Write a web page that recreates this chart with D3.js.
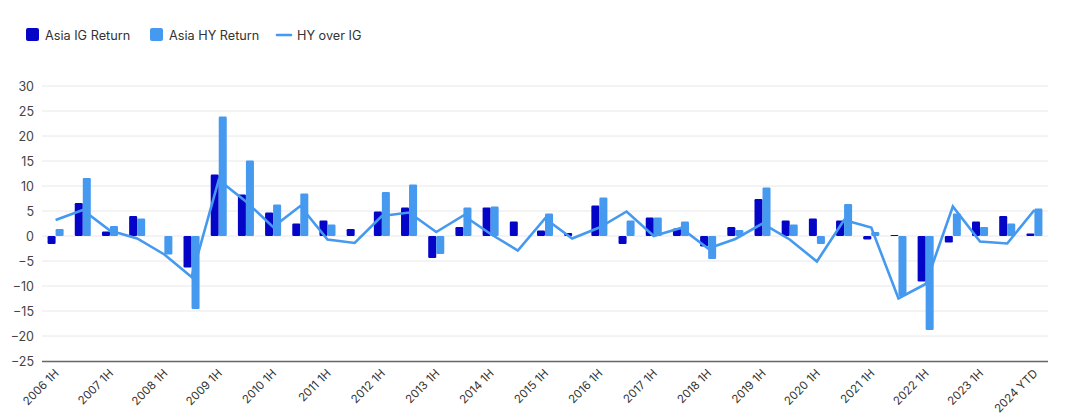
<!DOCTYPE html>
<html>
<head>
<meta charset="utf-8">
<script src="https://cdn.jsdelivr.net/npm/d3@7"></script>
<style>
  html, body { margin: 0; padding: 0; background: #fff; }
  svg { display: block; font-family: Inter, "Noto Sans", sans-serif; }
</style>
</head>
<body>
<svg id="chart" width="1080" height="419"></svg>
<script>
const categories = [
  "2006 1H","2006 2H","2007 1H","2007 2H","2008 1H","2008 2H","2009 1H","2009 2H",
  "2010 1H","2010 2H","2011 1H","2011 2H","2012 1H","2012 2H","2013 1H","2013 2H",
  "2014 1H","2014 2H","2015 1H","2015 2H","2016 1H","2016 2H","2017 1H","2017 2H",
  "2018 1H","2018 2H","2019 1H","2019 2H","2020 1H","2020 2H","2021 1H","2021 2H",
  "2022 1H","2022 2H","2023 1H","2023 2H","2024 YTD"
];
const igReturn = [
  -1.6, 6.6, 0.9, 4.0, 0.0, -6.3, 12.3, 8.3,
  4.7, 2.5, 3.1, 1.4, 4.9, 5.7, -4.4, 1.8,
  5.7, 2.9, 1.1, 0.6, 6.1, -1.6, 3.7, 1.5,
  -2.1, 1.8, 7.4, 3.1, 3.5, 3.1, -0.7, 0.2,
  -9.1, -1.3, 2.9, 4.0, 0.5
];
const hyReturn = [
  1.4, 11.6, 2.0, 3.5, -3.7, -14.6, 23.9, 15.1,
  6.3, 8.5, 2.3, 0.0, 8.8, 10.3, -3.6, 5.7,
  5.9, 0.0, 4.5, 0.0, 7.7, 3.1, 3.7, 2.9,
  -4.6, 1.2, 9.7, 2.3, -1.6, 6.4, 0.8, -12.0,
  -18.8, 4.5, 1.8, 2.5, 5.5
];
const hyOverIg = [
  3.2, 5.2, 1.1, -0.5, -3.7, -8.2, 11.2, 6.9,
  1.8, 6.0, -0.7, -1.4, 4.0, 4.7, 0.8, 4.1,
  0.4, -2.9, 3.5, -0.5, 1.7, 4.9, 0.0, 1.6,
  -2.5, -0.6, 2.5, -0.7, -5.1, 3.2, 1.7, -12.5,
  -9.6, 5.9, -1.1, -1.5, 5.2
];
const tickLabels = categories.filter((d, i) => i % 2 === 0);
const yTicks = [-25, -20, -15, -10, -5, 0, 5, 10, 15, 20, 25, 30];
const seriesNames = ["Asia IG Return", "Asia HY Return", "HY over IG"];
const colors = { ig: "#0505c8", hy: "#4599ef", line: "#4599ef" };

const svg = d3.select("#chart");
const plotLeft = 42, plotRight = 1048, plotTop = 86, plotBottom = 361;

const x = d3.scaleBand().domain(categories).range([plotLeft, plotRight])
  .paddingInner(0.41).paddingOuter(0.205);
const x1 = d3.scaleBand().domain(["ig", "hy"]).range([0, x.bandwidth()]);
const y = d3.scaleLinear().domain([-25, 30]).range([plotBottom, plotTop]);

// gridlines
svg.append("g").selectAll("line").data(yTicks.filter(t => t !== -25)).join("line")
  .attr("x1", plotLeft).attr("x2", plotRight)
  .attr("y1", d => y(d)).attr("y2", d => y(d))
  .attr("stroke", "#e8e8e8").attr("stroke-width", 1);

// y axis labels
const yAxis = d3.axisLeft(y).tickValues(yTicks).tickSize(0).tickPadding(8);
const yg = svg.append("g").attr("transform", `translate(${plotLeft},0)`).call(yAxis);
yg.select(".domain").remove();
yg.selectAll("text").attr("font-size", 12.5).attr("fill", "#444")
  .attr("font-family", "Inter, 'Noto Sans', sans-serif");

// bars
const rows = categories.map((c, i) => ({ c, ig: igReturn[i], hy: hyReturn[i], l: hyOverIg[i] }));
function drawBars(g, key, color) {
  g.selectAll("rect").data(rows.filter(r => r[key] !== 0)).join("rect")
    .attr("x", d => x(d.c) + x1(key))
    .attr("width", x1.bandwidth())
    .attr("y", d => y(Math.max(0, d[key])))
    .attr("height", d => Math.max(1, Math.abs(y(d[key]) - y(0))))
    .attr("rx", 1.2)
    .attr("fill", color);
}
drawBars(svg.append("g"), "ig", colors.ig);
drawBars(svg.append("g"), "hy", colors.hy);

// x axis
const xAxis = d3.axisBottom(x).tickValues(tickLabels).tickSize(0).tickPadding(0);
const xg = svg.append("g").attr("transform", `translate(0,${plotBottom})`).call(xAxis);
xg.select(".domain").attr("d", `M${plotLeft},0.5H${plotRight}`).attr("stroke", "#666").attr("stroke-width", 1.6);
xg.selectAll("text")
  .attr("font-size", 11.5).attr("fill", "#333")
  .attr("font-family", "Inter, 'Noto Sans', sans-serif")
  .attr("text-anchor", "end")
  .attr("dy", null).attr("y", 0)
  .attr("transform", "translate(4,13) rotate(-45)");

// line
const line = d3.line().x(d => x(d.c) + x.bandwidth() / 2).y(d => y(d.l));
svg.append("path").datum(rows).attr("d", line)
  .attr("fill", "none").attr("stroke", colors.line).attr("stroke-width", 2.6);

// legend
const lg = svg.append("g").attr("font-size", 12.7).attr("fill", "#333");
const legendItems = [
  { name: seriesNames[0], type: "rect", color: colors.ig, x: 26, tx: 45 },
  { name: seriesNames[1], type: "rect", color: colors.hy, x: 150, tx: 169 },
  { name: seriesNames[2], type: "line", color: colors.line, x: 277, tx: 297 }
];
legendItems.forEach(it => {
  if (it.type === "rect") {
    lg.append("rect").attr("x", it.x).attr("y", 28).attr("width", 13).attr("height", 13)
      .attr("rx", 2).attr("fill", it.color);
  } else {
    lg.append("line").attr("x1", it.x).attr("x2", it.x + 14).attr("y1", 35).attr("y2", 35)
      .attr("stroke", it.color).attr("stroke-width", 2.6).attr("stroke-linecap", "round");
  }
  lg.append("text").attr("x", it.tx).attr("y", 39.5).text(it.name);
});
</script>
</body>
</html>
